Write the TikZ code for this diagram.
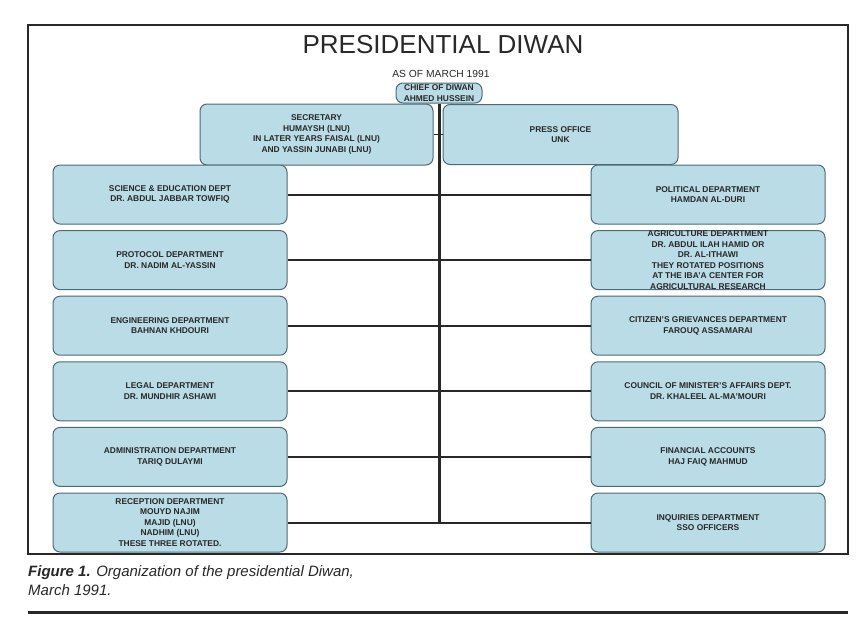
\documentclass[tikz,border=0pt]{standalone}
\usepackage{fontspec}
\setmainfont{Liberation Sans}
\definecolor{deptfill}{RGB}{185,220,231}
\definecolor{deptline}{RGB}{78,106,116}
\definecolor{inkgray}{RGB}{40,40,40}

\begin{document}
\begin{tikzpicture}[x=1pt, y=-1pt,
    dept/.style={draw=deptline, fill=deptfill, line width=1pt, rounded corners=7pt, inner sep=0pt, align=center, text=inkgray, font=\fontsize{8.4}{10.5}\selectfont\bfseries},
    wide/.style={dept, minimum width=234pt, minimum height=59pt},
    link/.style={line width=2pt, inkgray}]

    \useasboundingbox (0,0) rectangle (864,627);
    \draw[line width=1.6pt, inkgray] (28,25) rectangle (848,554);

    \node[font=\fontsize{26}{30}\selectfont, text=inkgray, anchor=base] (title) at (443,53) {PRESIDENTIAL DIWAN};
    \node[font=\fontsize{10.3}{12}\selectfont, text=inkgray, anchor=base] (asof) at (441,77) {AS OF MARCH 1991};

    \node[dept, minimum width=86pt, minimum height=20pt] (chief) at (439,93) {CHIEF OF DIWAN\\AHMED HUSSEIN};
    \node[dept, minimum width=233pt, minimum height=61pt] (secretary) at (316.5,134.5) {SECRETARY\\HUMAYSH (LNU)\\IN LATER YEARS FAISAL (LNU)\\AND YASSIN JUNABI (LNU)};
    \node[dept, minimum width=235pt, minimum height=60pt] (press) at (560.5,134.5) {PRESS OFFICE\\UNK};

    \node[wide] (science) at (170,194.5) {SCIENCE \& EDUCATION DEPT\\DR. ABDUL JABBAR TOWFIQ};
    \node[wide] (protocol) at (170,260.1) {PROTOCOL DEPARTMENT\\DR. NADIM AL-YASSIN};
    \node[wide] (engineering) at (170,325.7) {ENGINEERING DEPARTMENT\\BAHNAN KHDOURI};
    \node[wide] (legal) at (170,391.3) {LEGAL DEPARTMENT\\DR. MUNDHIR ASHAWI};
    \node[wide] (admin) at (170,456.9) {ADMINISTRATION DEPARTMENT\\TARIQ DULAYMI};
    \node[wide] (reception) at (170,522.5) {RECEPTION DEPARTMENT\\MOUYD NAJIM\\MAJID (LNU)\\NADHIM (LNU)\\THESE THREE ROTATED.};

    \node[wide] (political) at (708,194.5) {POLITICAL DEPARTMENT\\HAMDAN AL-DURI};
    \node[wide] (agriculture) at (708,260.1) {AGRICULTURE DEPARTMENT\\DR. ABDUL ILAH HAMID OR\\DR. AL-ITHAWI\\THEY ROTATED POSITIONS\\AT THE IBA'A CENTER FOR\\AGRICULTURAL RESEARCH};
    \node[wide] (grievances) at (708,325.7) {CITIZEN'S GRIEVANCES DEPARTMENT\\FAROUQ ASSAMARAI};
    \node[wide] (council) at (708,391.3) {COUNCIL OF MINISTER'S AFFAIRS DEPT.\\DR. KHALEEL AL-MA'MOURI};
    \node[wide] (finance) at (708,456.9) {FINANCIAL ACCOUNTS\\HAJ FAIQ MAHMUD};
    \node[wide] (inquiries) at (708,522.5) {INQUIRIES DEPARTMENT\\SSO OFFICERS};

    \coordinate (spineend) at (439,522.5);

    \draw[line width=3pt, inkgray] (chief.south) -- (spineend);
    \draw[line width=1.5pt, inkgray] (secretary.east) -- (press.west);

    \draw[link] (science) -- (political);
    \draw[link] (protocol) -- (agriculture);
    \draw[link] (engineering) -- (grievances);
    \draw[link] (legal) -- (council);
    \draw[link] (admin) -- (finance);
    \draw[link] (reception) -- (inquiries);

    \node[anchor=base west, inner sep=0pt, text=inkgray, font=\fontsize{15}{18}\selectfont] (caption) at (28,576) {\textbf{\textit{Figure 1.}} \textit{Organization of the presidential Diwan,}};
    \node[anchor=base west, inner sep=0pt, text=inkgray, font=\fontsize{15}{18}\selectfont] (captiondate) at (28,595) {\textit{March 1991.}};
    \draw[line width=3pt, inkgray] (28,612) -- (848,612);

\end{tikzpicture}
\end{document}
